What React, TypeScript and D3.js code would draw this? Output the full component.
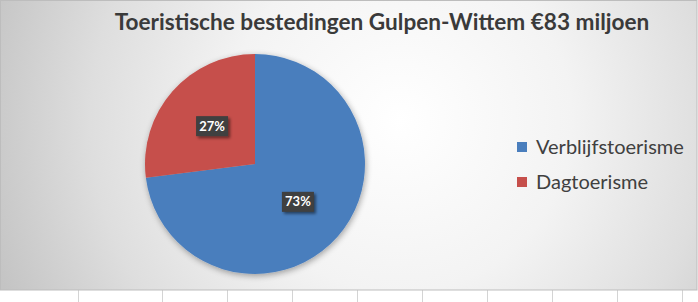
import React, { useMemo } from "react";
import * as d3 from "d3";

const title = "Toeristische bestedingen Gulpen-Wittem €83 miljoen";
const categories = ["Verblijfstoerisme", "Dagtoerisme"];
const values = [73, 27];
const colors = ["#4a7ebd", "#c64f4b"];

const W = 698;
const H = 302;
const CHART_H = 290;
const FONT = "Lato, 'Open Sans', 'DejaVu Sans', sans-serif";

export default function App() {
  const cx = 255;
  const cy = 164;
  const r = 110;

  const arcs = useMemo(
    () => d3.pie<number>().sort(null).value((d) => d)(values),
    []
  );
  const arcGen = d3.arc<d3.PieArcDatum<number>>().innerRadius(0).outerRadius(r);
  const labelArc = d3
    .arc<d3.PieArcDatum<number>>()
    .innerRadius(0)
    .outerRadius(r * 1.04);

  const total = d3.sum(values);
  const gridXs = [78, ...d3.range(162, W, 65)];

  return (
    <svg
      width={W}
      height={H}
      style={{ position: "absolute", left: 0, top: 0, display: "block" }}
    >
      <defs>
        <radialGradient
          id="bg"
          gradientUnits="userSpaceOnUse"
          cx={400}
          cy={120}
          r={430}
        >
          <stop offset="0" stopColor="#ffffff" />
          <stop offset="0.4" stopColor="#f3f3f3" />
          <stop offset="0.72" stopColor="#dedede" />
          <stop offset="1" stopColor="#c4c4c4" />
        </radialGradient>
        <filter id="pieShadow" x="-20%" y="-20%" width="140%" height="140%">
          <feGaussianBlur in="SourceAlpha" stdDeviation="3" />
          <feOffset dx="1" dy="2" result="b" />
          <feComponentTransfer>
            <feFuncA type="linear" slope="0.35" />
          </feComponentTransfer>
          <feMerge>
            <feMergeNode />
            <feMergeNode in="SourceGraphic" />
          </feMerge>
        </filter>
        <filter id="boxShadow" x="-30%" y="-30%" width="160%" height="160%">
          <feGaussianBlur in="SourceAlpha" stdDeviation="1.5" />
          <feOffset dx="1.5" dy="1.5" />
          <feComponentTransfer>
            <feFuncA type="linear" slope="0.5" />
          </feComponentTransfer>
          <feMerge>
            <feMergeNode />
            <feMergeNode in="SourceGraphic" />
          </feMerge>
        </filter>
      </defs>

      <rect x={0} y={0} width={W} height={H} fill="#ffffff" />
      {gridXs.map((x, i) => (
        <line key={i} x1={x + 0.5} x2={x + 0.5} y1={CHART_H} y2={H} stroke="#d4d4d4" />
      ))}
      <rect
        x={0.5}
        y={0.5}
        width={W - 1.5}
        height={CHART_H - 0.5}
        fill="url(#bg)"
        stroke="#bdbdbd"
      />

      <text
        x={382}
        y={30}
        textAnchor="middle"
        fontFamily={FONT}
        fontWeight="bold"
        fontSize={22.6}
        fill="#3a3a3a"
      >
        {title}
      </text>

      <g transform={`translate(${cx},${cy})`} filter="url(#pieShadow)">
        {arcs.map((a, i) => (
          <path key={i} d={arcGen(a) || ""} fill={colors[i]} />
        ))}
      </g>

      <g transform={`translate(${cx},${cy})`}>
        {arcs.map((a, i) => {
          const [lx, ly] = labelArc.centroid(a);
          const txt = `${Math.round((a.data / total) * 100)}%`;
          return (
            <g key={i} transform={`translate(${lx},${ly})`}>
              <rect
                x={-16}
                y={-10}
                width={32}
                height={20}
                fill="#3f3f3f"
                filter="url(#boxShadow)"
              />
              <text
                x={0}
                y={4.5}
                textAnchor="middle"
                fontFamily={FONT}
                fontWeight="bold"
                fontSize={13}
                fill="#ffffff"
              >
                {txt}
              </text>
            </g>
          );
        })}
      </g>

      <g transform="translate(517,142)">
        {categories.map((c, i) => (
          <g key={c} transform={`translate(0,${i * 35})`}>
            <rect x={0} y={0} width={10} height={10} fill={colors[i]} />
            <text
              x={19}
              y={11.5}
              fontFamily={FONT}
              fontSize={20}
              fill="#404040"
            >
              {c}
            </text>
          </g>
        ))}
      </g>
    </svg>
  );
}
